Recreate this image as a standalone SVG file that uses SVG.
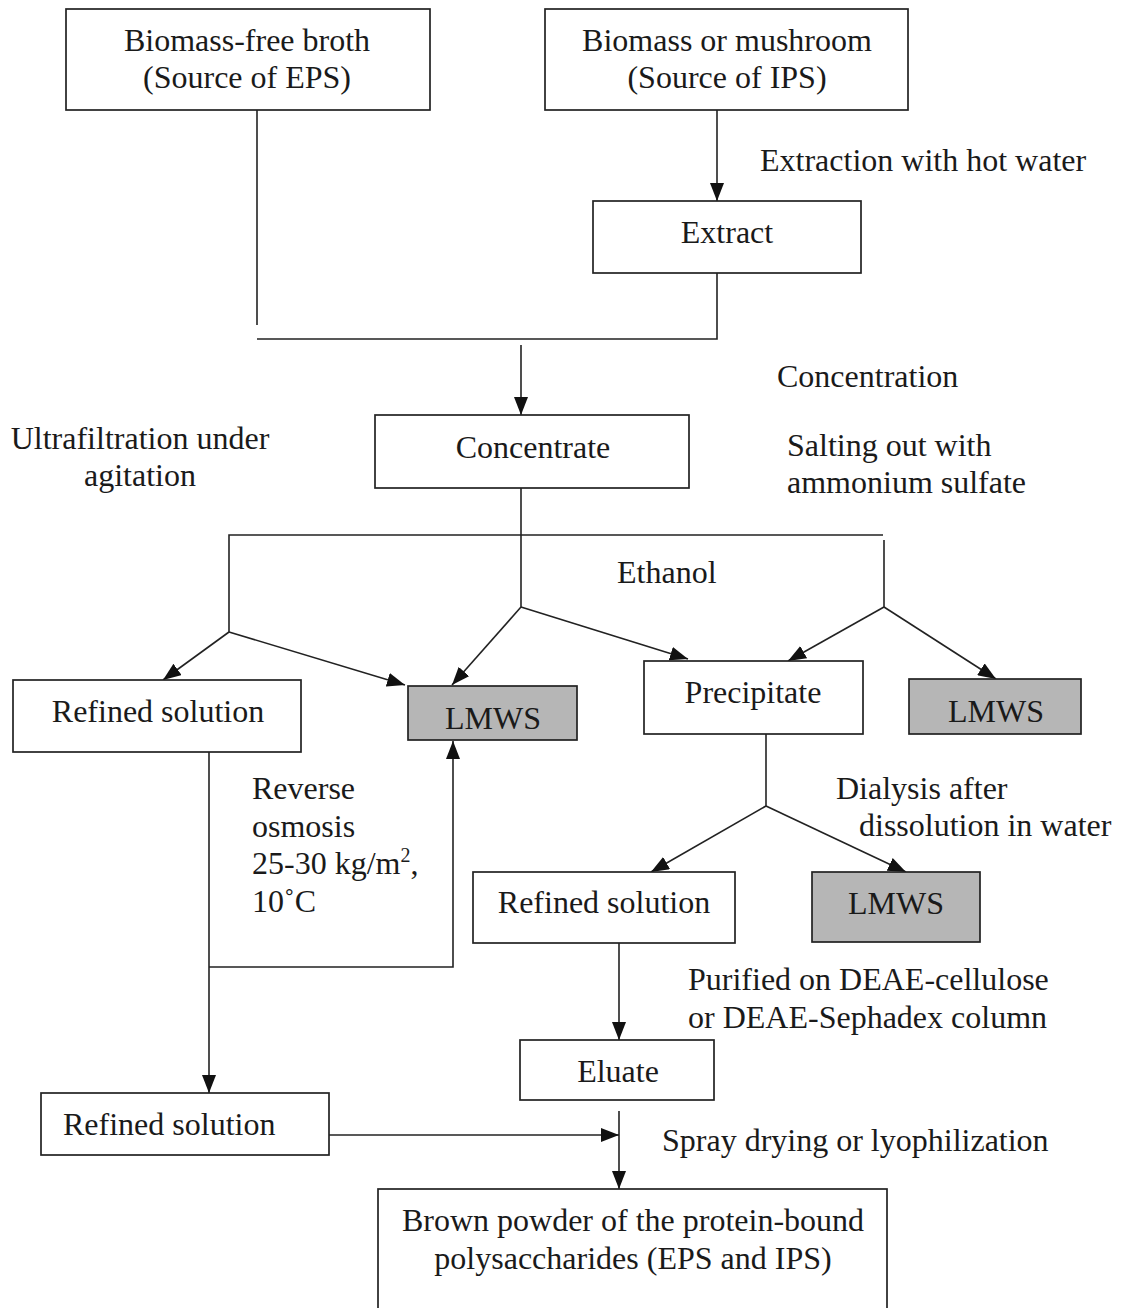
<svg xmlns="http://www.w3.org/2000/svg" width="1121" height="1308" viewBox="0 0 1121 1308">
<style>
.box{fill:#fff;stroke:#222;stroke-width:1.7}
.gray{fill:#b6b6b6;stroke:#222;stroke-width:1.7}
.ln{fill:none;stroke:#222;stroke-width:1.6}
text{font-family:"Liberation Serif","Times New Roman",serif;font-size:32px;fill:#1a1a1a}
.c{text-anchor:middle}
</style>
<defs>
<marker id="ah" viewBox="0 0 18 14" refX="18" refY="7" markerWidth="18" markerHeight="14" markerUnits="userSpaceOnUse" orient="auto">
<path d="M0,0 L18,7 L0,14 Z" fill="#111"/>
</marker>
</defs>
<rect width="1121" height="1308" fill="#fff"/>

<g id="connectors">
<path class="ln" d="M257,110 V325"/>
<path class="ln" d="M717,110 V201" marker-end="url(#ah)"/>
<path class="ln" d="M717,273 V339 H257"/>
<path class="ln" d="M521,345 V415" marker-end="url(#ah)"/>
<path class="ln" d="M521,488 V607"/>
<path class="ln" d="M229,632 V535 H883"/>
<path class="ln" d="M884,540 V607"/>
<path class="ln" d="M229,632 L163,680" marker-end="url(#ah)"/>
<path class="ln" d="M229,632 L405,685" marker-end="url(#ah)"/>
<path class="ln" d="M521,607 L452,685" marker-end="url(#ah)"/>
<path class="ln" d="M521,607 L688,659" marker-end="url(#ah)"/>
<path class="ln" d="M884,607 L788,661" marker-end="url(#ah)"/>
<path class="ln" d="M884,607 L996,679" marker-end="url(#ah)"/>
<path class="ln" d="M209,738 V1093" marker-end="url(#ah)"/>
<path class="ln" d="M209,967 H453 V741" marker-end="url(#ah)"/>
<path class="ln" d="M766,734 V806"/>
<path class="ln" d="M766,806 L651,872" marker-end="url(#ah)"/>
<path class="ln" d="M766,806 L906,872" marker-end="url(#ah)"/>
<path class="ln" d="M619,943 V1040" marker-end="url(#ah)"/>
<path class="ln" d="M619,1111 V1189" marker-end="url(#ah)"/>
<path class="ln" d="M329,1135 H619" marker-end="url(#ah)"/>
</g>

<g id="n-broth">
<rect class="box" x="66" y="9" width="364" height="101"/>
<text class="c" x="247" y="51">Biomass-free broth</text>
<text class="c" x="247" y="88">(Source of EPS)</text>
</g>
<g id="n-biomass">
<rect class="box" x="545" y="9" width="363" height="101"/>
<text class="c" x="727" y="51">Biomass or mushroom</text>
<text class="c" x="727" y="88">(Source of IPS)</text>
</g>
<g id="n-extract">
<rect class="box" x="593" y="201" width="268" height="72"/>
<text class="c" x="727" y="243">Extract</text>
</g>
<g id="n-concentrate">
<rect class="box" x="375" y="415" width="314" height="73"/>
<text class="c" x="533" y="458">Concentrate</text>
</g>
<g id="n-refined1">
<rect class="box" x="13" y="680" width="288" height="72"/>
<text class="c" x="158" y="722">Refined solution</text>
</g>
<g id="n-lmws1">
<rect class="gray" x="408" y="686" width="169" height="54"/>
<text class="c" x="493" y="729">LMWS</text>
</g>
<g id="n-precipitate">
<rect class="box" x="644" y="661" width="219" height="73"/>
<text class="c" x="753" y="703">Precipitate</text>
</g>
<g id="n-lmws2">
<rect class="gray" x="909" y="679" width="172" height="55"/>
<text class="c" x="996" y="722">LMWS</text>
</g>
<g id="n-refined2">
<rect class="box" x="473" y="872" width="262" height="71"/>
<text class="c" x="604" y="913">Refined solution</text>
</g>
<g id="n-lmws3">
<rect class="gray" x="812" y="872" width="168" height="70"/>
<text class="c" x="896" y="914">LMWS</text>
</g>
<g id="n-eluate">
<rect class="box" x="520" y="1040" width="194" height="60"/>
<text class="c" x="618" y="1082">Eluate</text>
</g>
<g id="n-refined3">
<rect class="box" x="41" y="1093" width="288" height="62"/>
<text x="63" y="1135">Refined solution</text>
</g>
<g id="n-powder">
<rect class="box" x="378" y="1189" width="509" height="130"/>
<text class="c" x="633" y="1231">Brown powder of the protein-bound</text>
<text class="c" x="633" y="1269">polysaccharides (EPS and IPS)</text>
</g>

<g id="labels">
<text x="760" y="171">Extraction with hot water</text>
<text x="777" y="387">Concentration</text>
<text class="c" x="140" y="449">Ultrafiltration under</text>
<text class="c" x="140" y="486">agitation</text>
<text x="787" y="456">Salting out with</text>
<text x="787" y="493">ammonium sulfate</text>
<text x="617" y="583">Ethanol</text>
<text x="252" y="799">Reverse</text>
<text x="252" y="837">osmosis</text>
<text x="252" y="874">25-30 kg/m<tspan font-size="20" dy="-12">2</tspan><tspan dy="12">,</tspan></text>
<text x="252" y="912">10˚C</text>
<text x="836" y="799">Dialysis after</text>
<text x="859" y="836">dissolution in water</text>
<text x="688" y="990">Purified on DEAE-cellulose</text>
<text x="688" y="1028">or DEAE-Sephadex column</text>
<text x="662" y="1151">Spray drying or lyophilization</text>
</g>
</svg>
